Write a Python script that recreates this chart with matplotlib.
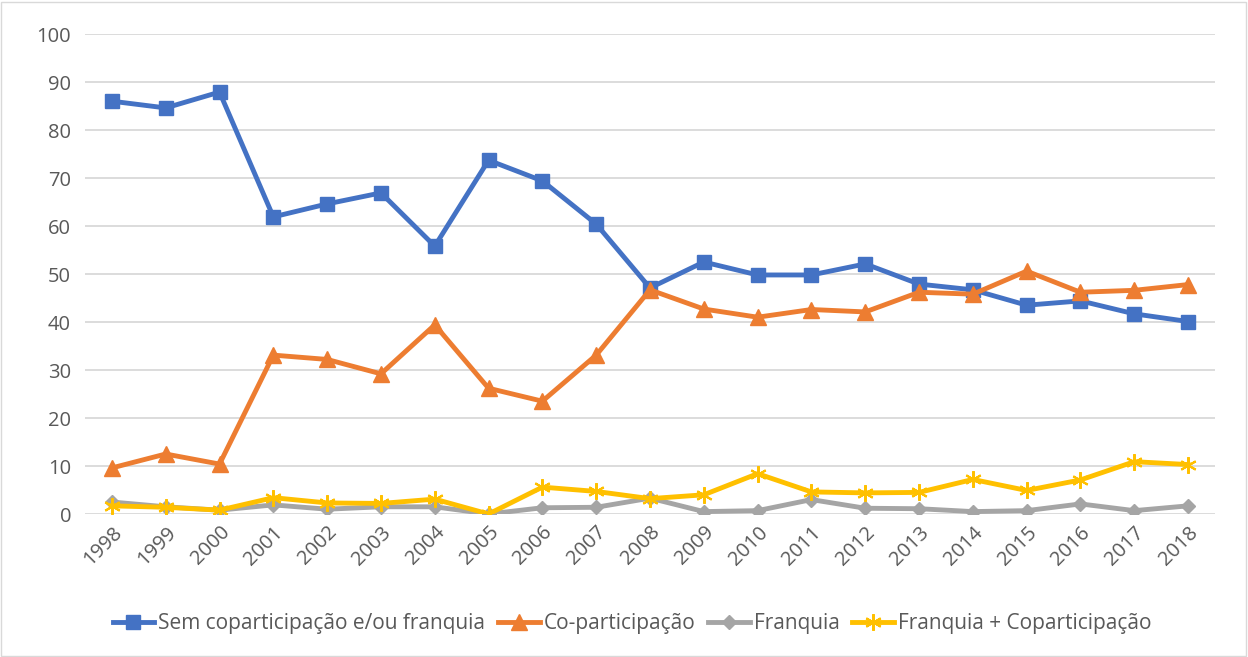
import matplotlib
matplotlib.use("Agg")
import matplotlib.pyplot as plt
from matplotlib.patches import Rectangle

years = [str(y) for y in range(1998, 2019)]
sem = [86.0, 84.6, 87.9, 61.9, 64.6, 66.9, 55.8, 73.7, 69.4, 60.4, 47.1,
       52.5, 49.8, 49.8, 52.1, 47.9, 46.7, 43.5, 44.4, 41.7, 40.1]
copart = [9.6, 12.5, 10.4, 33.1, 32.2, 29.2, 39.4, 26.2, 23.5, 33.1, 46.7,
          42.7, 41.0, 42.6, 42.1, 46.2, 45.8, 50.6, 46.2, 46.6, 47.8]
franquia = [2.5, 1.5, 0.8, 1.9, 1.0, 1.5, 1.5, 0.0, 1.3, 1.4, 3.3,
            0.5, 0.7, 3.0, 1.2, 1.1, 0.5, 0.7, 2.1, 0.7, 1.7]
franq_copart = [1.7, 1.4, 0.8, 3.4, 2.3, 2.2, 3.1, 0.0, 5.6, 4.7, 3.2,
                4.0, 8.4, 4.6, 4.4, 4.5, 7.2, 4.9, 7.1, 10.9, 10.3]

labels = ["Sem coparticipação e/ou franquia", "Co-participação",
          "Franquia", "Franquia + Coparticipação"]
yticks = list(range(0, 101, 10))

plt.rcParams['font.family'] = ['Open Sans', 'DejaVu Sans']

W, H = 1248, 657
fig = plt.figure(figsize=(W / 100, H / 100), dpi=100)
ax = fig.add_axes([85 / W, 1 - 514 / H, (1215 - 85) / W, (514 - 34) / H])

x = list(range(len(years)))
ax.plot(x, sem, color='#4472C4', lw=3.5, marker='s', ms=10, label=labels[0], zorder=3)
ax.plot(x, copart, color='#ED7D31', lw=3.5, marker='^', ms=11, label=labels[1], zorder=3)
ax.plot(x, franquia, color='#A5A5A5', lw=3.5, marker='D', ms=7.5, label=labels[2], zorder=3)
ax.plot(x, franq_copart, color='#FFC000', lw=3.5, marker=(6, 2, 0), ms=12, mew=1.5,
        label=labels[3], zorder=3)

ax.set_xlim(-0.5, len(years) - 0.5)
ax.set_ylim(0, 100)
ax.set_yticks(yticks)
ax.set_xticks(x)
ax.set_xticklabels(years, rotation=45, ha='right', rotation_mode='anchor')
ax.grid(axis='y', color='#D9D9D9', lw=1.3)
ax.set_axisbelow(True)
for s in ax.spines.values():
    s.set_visible(False)
ax.tick_params(axis='both', length=0, labelsize=14.5, colors='#595959', pad=10)
ax.tick_params(axis='x', pad=6)

leg = fig.legend(loc='center', bbox_to_anchor=(632 / W, 1 - 624 / H), ncol=4,
                 frameon=False, fontsize=15, handlelength=2.0, columnspacing=0.6,
                 handletextpad=0.2)
for t in leg.get_texts():
    t.set_color('#595959')

fig.patches.append(Rectangle((1 / W, 1 / H), 1 - 3 / W, 1 - 3 / H, transform=fig.transFigure,
                             fill=False, edgecolor='#D9D9D9', lw=1))
fig.savefig('out.png', dpi=100, facecolor='white')
